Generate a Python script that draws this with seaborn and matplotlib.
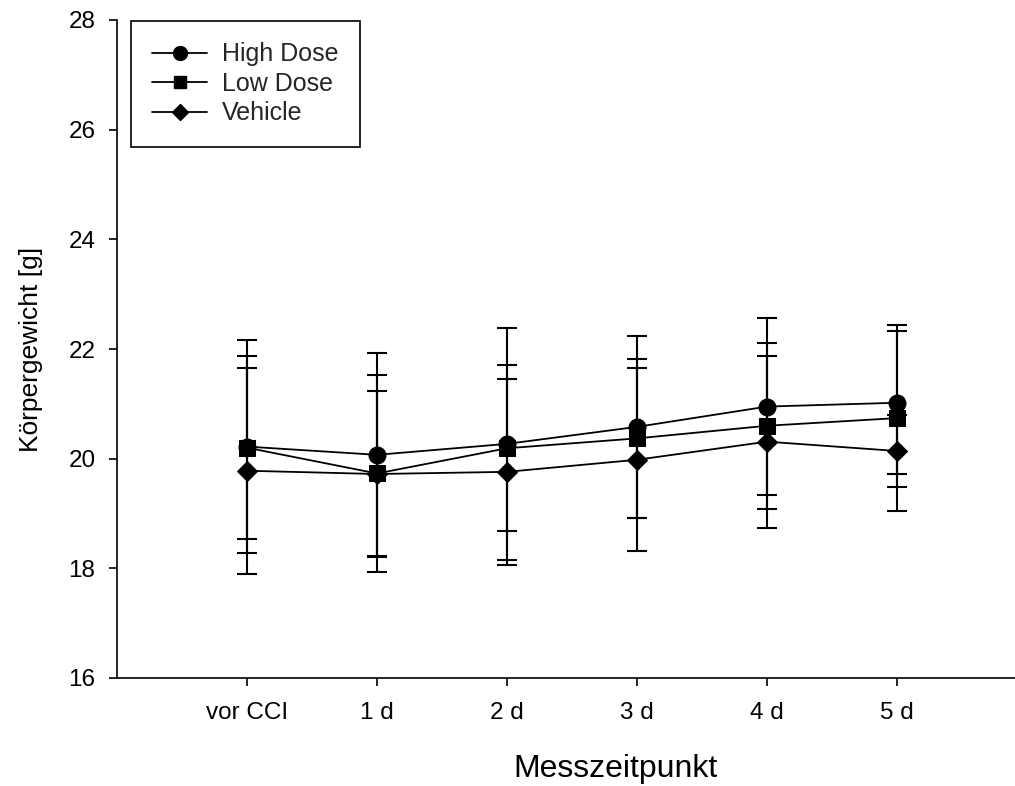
import numpy as np
import pandas as pd
import matplotlib
matplotlib.use("Agg")
import matplotlib.pyplot as plt
from matplotlib.lines import Line2D
import seaborn as sns

# Measurement time points
timepoints = ["vor CCI", "1 d", "2 d", "3 d", "4 d", "5 d"]

# Body weight means and standard deviations per group [g]
high_mean = [20.22, 20.07, 20.27, 20.58, 20.95, 21.02]
high_sd = [1.94, 1.85, 2.11, 1.66, 1.62, 1.30]
low_mean = [20.20, 19.73, 20.19, 20.37, 20.60, 20.74]
low_sd = [1.67, 1.80, 1.51, 1.45, 1.51, 1.70]
veh_mean = [19.78, 19.72, 19.76, 19.98, 20.31, 20.14]
veh_sd = [1.88, 1.52, 1.70, 1.67, 1.57, 0.66]

groups = ["High Dose", "Low Dose", "Vehicle"]
markers = {"High Dose": "o", "Low Dose": "s", "Vehicle": "D"}
msizes = {"High Dose": 12.2, "Low Dose": 11.3, "Vehicle": 10.2}
leg_msizes = {"High Dose": 10, "Low Dose": 9, "Vehicle": 8.5}

pos = np.arange(len(timepoints))
df = pd.DataFrame({
    "pos": np.tile(pos, 3),
    "weight": high_mean + low_mean + veh_mean,
    "sd": high_sd + low_sd + veh_sd,
    "group": np.repeat(groups, len(timepoints)),
})

sns.set_theme(style="ticks")
plt.rcParams["font.family"] = ["Liberation Sans", "DejaVu Sans"]

fig = plt.figure(figsize=(10.15, 7.86), dpi=100)
W, H = 1015, 786
left, right, top, bottom = 117, 1027, 20, 678
ax = fig.add_axes([left / W, 1 - bottom / H, (right - left) / W, (bottom - top) / H])

# Error bars first so markers sit on top
for g in groups:
    sub = df[df["group"] == g]
    ax.errorbar(sub["pos"], sub["weight"], yerr=sub["sd"], fmt="none",
                ecolor="black", elinewidth=1.5, capsize=7, capthick=1.5, zorder=2)

for g in groups:
    sub = df[df["group"] == g]
    sns.lineplot(data=sub, x="pos", y="weight", ax=ax, color="black",
                 marker=markers[g], markersize=msizes[g], markeredgecolor="black",
                 markerfacecolor="black", linewidth=1.3, legend=False, zorder=3,
                 errorbar=None)

ax.set_xlim(-1, 6)
ax.set_ylim(16, 28)
ax.set_xticks(pos)
ax.set_xticklabels(timepoints)
ax.set_yticks(np.arange(16, 29, 2))

for side in ["top", "right"]:
    ax.spines[side].set_visible(False)
for side in ["left", "bottom"]:
    ax.spines[side].set_linewidth(1.2)
    ax.spines[side].set_color("black")

ax.tick_params(axis="both", direction="out", length=5.5, width=1.2,
               color="black", labelsize=17.5, labelcolor="black")
ax.tick_params(axis="x", pad=12)
ax.tick_params(axis="y", pad=10)

ax.set_xlabel("Messzeitpunkt", fontsize=23, color="black")
ax.set_ylabel("Körpergewicht [g]", fontsize=19, color="black")
ax.xaxis.set_label_coords((615 - left) / (right - left), -(754 - bottom) / (bottom - top))
ax.yaxis.set_label_coords(-(left - 43) / (right - left), 0.5)

handles = [Line2D([0], [0], color="black", linewidth=1.3, marker=markers[g],
                  markersize=leg_msizes[g], markerfacecolor="black",
                  markeredgecolor="black") for g in groups]
leg = fig.legend(handles, groups, loc="upper left",
                 bbox_to_anchor=(131 / W, 1 - 21 / H), bbox_transform=fig.transFigure,
                 borderaxespad=0, fontsize=18, frameon=True, fancybox=False,
                 edgecolor="black", handlelength=2.2, handletextpad=0.6,
                 labelspacing=0.22, borderpad=0.85)
leg.get_frame().set_linewidth(1.2)
leg.get_frame().set_alpha(1)

fig.savefig("out.png", dpi=100, facecolor="white")
